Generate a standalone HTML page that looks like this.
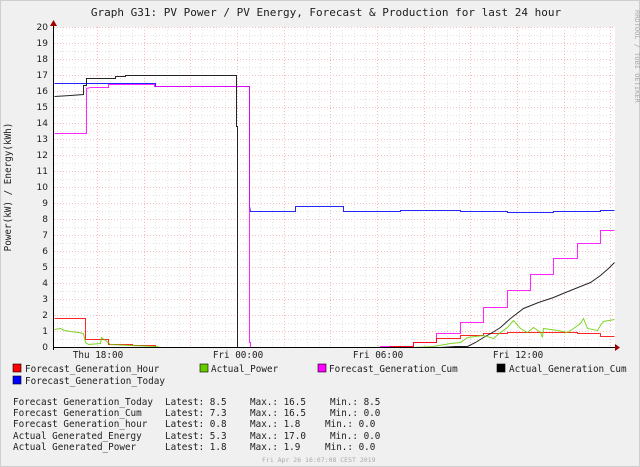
<!DOCTYPE html>
<html><head><meta charset="utf-8"><style>
html,body{margin:0;padding:0;background:#f0f0f0;}
svg{display:block}
</style></head><body>
<svg width="640" height="467" xmlns="http://www.w3.org/2000/svg" font-family="'DejaVu Sans Mono','Liberation Mono',monospace">
<rect x="0" y="0" width="640" height="467" fill="#f0f0f0"/>
<rect x="0.5" y="0.5" width="639" height="466" fill="none" stroke="#cfcfcf"/>
<rect x="53" y="27" width="562" height="320" fill="#ffffff"/>
<g id="g" stroke-width="1"></g>
<text x="326" y="16" text-anchor="middle" font-size="11" fill="#202020">Graph G31: PV Power / PV Energy, Forecast &amp; Production for last 24 hour</text>
<text transform="translate(635,10) rotate(90)" font-size="7" fill="#aaa">RRDTOOL / TOBI OETIKER</text>
<text transform="translate(11,187) rotate(-90)" text-anchor="middle" font-size="9.3" fill="#202020">Power(kW) / Energy(kWh)</text>
<g id="yl" font-family="'DejaVu Sans','Liberation Sans',sans-serif" font-size="9" fill="#202020" text-anchor="end"></g>
<g font-size="9.3" fill="#202020" text-anchor="middle">
<text x="98" y="358">Thu 18:00</text>
<text x="238" y="358">Fri 00:00</text>
<text x="378" y="358">Fri 06:00</text>
<text x="518" y="358">Fri 12:00</text>
</g>
<g id="series" fill="none" stroke-width="1" transform="translate(0.5,0.5)" stroke-opacity="0.85">
<polyline stroke="#0000ff" points="54,83 155,83 155,86 249,86 249,206 250,211 295,211 295,206 343,206 343,211 400,211 400,210 460,210 460,211 507,211 507,212 553,212 553,211 600,211 600,210 614,210"/>
<polyline stroke="#ff00ff" points="54,133 86,133 86,88 90,87 108,87 108,84 154,84 154,86 249,86 249,342 250,342 250,347 380,347 380,346 413,346 413,342 436,342 436,333 460,333 460,322 483,322 483,307 507,307 507,290 530,290 530,274 553,274 553,258 577,258 577,243 600,243 600,230 614,230"/>
<polyline stroke="#ff0000" points="54,318 85,318 85,339 108,339 108,344 132,344 132,345 155,345 155,347 390,347 390,346 413,346 413,342 436,342 436,338 460,338 460,335 483,335 483,333 507,333 507,332 577,332 577,333 600,333 600,336 614,336"/>
<polyline stroke="#000000" points="54,96 70,95 83,94 83,85 86,85 86,78 115,78 115,76 125,76 125,75 236,75 236,126 237,126 237,347 440,347 455,346 467,346 475,342 483,337 492,332 500,327 510,318 523,308 538,302 553,297 565,292 580,286 590,282 600,275 608,268 614,262"/>
<polyline stroke="#66cc00" points="54,329 60,328 64,330 70,331 78,332 83,333 85,342 88,344 100,343 101,337 105,340 110,344 130,345 155,346 160,347 413,347 433,346 450,343 460,342 467,337 483,335 493,338 500,332 507,327 513,320 520,328 527,332 533,327 540,332 542,337 543,328 557,330 567,332 573,328 580,323 583,318 587,328 597,330 600,325 603,321 614,319"/>
</g>
<line x1="53" y1="347.5" x2="618" y2="347.5" stroke="#000"/>
<line x1="53.5" y1="22" x2="53.5" y2="350" stroke="#000"/>
<polygon points="615,344 620,347.5 615,351" fill="#a00000"/>
<polygon points="50,26 53.5,20 57,26" fill="#a00000"/>
<g font-size="9.3" fill="#202020">
<rect x="13" y="364" width="8" height="8" fill="#ff0000" stroke="#000" stroke-width="0.6"/><text x="25" y="372">Forecast_Generation_Hour</text>
<rect x="200" y="364" width="8" height="8" fill="#66cc00" stroke="#000" stroke-width="0.6"/><text x="211" y="372">Actual_Power</text>
<rect x="318" y="364" width="8" height="8" fill="#ff00ff" stroke="#000" stroke-width="0.6"/><text x="329" y="372">Forecast_Generation_Cum</text>
<rect x="497" y="364" width="8" height="8" fill="#000000" stroke="#000" stroke-width="0.6"/><text x="509" y="372">Actual_Generation_Cum</text>
<rect x="13" y="376" width="8" height="8" fill="#0000ff" stroke="#000" stroke-width="0.6"/><text x="25" y="384">Forecast_Generation_Today</text>
<text x="13" y="405">Forecast Generation_Today</text><text x="165" y="405">Latest: 8.5</text><text x="250" y="405">Max.: 16.5</text><text x="330" y="405">Min.: 8.5</text>
<text x="13" y="416">Forecast Generation_Cum</text><text x="165" y="416">Latest: 7.3</text><text x="250" y="416">Max.: 16.5</text><text x="330" y="416">Min.: 0.0</text>
<text x="13" y="427">Forecast Generation_hour</text><text x="165" y="427">Latest: 0.8</text><text x="250" y="427">Max.: 1.8</text><text x="325" y="427">Min.: 0.0</text>
<text x="13" y="439">Actual Generated_Energy</text><text x="165" y="439">Latest: 5.3</text><text x="250" y="439">Max.: 17.0</text><text x="330" y="439">Min.: 0.0</text>
<text x="13" y="450">Actual Generated_Power</text><text x="165" y="450">Latest: 1.8</text><text x="250" y="450">Max.: 1.9</text><text x="325" y="450">Min.: 0.0</text>
</g>
<text x="262" y="462" font-size="6.5" fill="#aaaaaa">Fri Apr 26 16:07:08 CEST 2019</text>
</svg>
<script>
(function(){
var ns="http://www.w3.org/2000/svg";
var g=document.getElementById('g');
function line(x1,y1,x2,y2,c,d){var l=document.createElementNS(ns,'line');l.setAttribute('x1',x1);l.setAttribute('y1',y1);l.setAttribute('x2',x2);l.setAttribute('y2',y2);l.setAttribute('stroke',c);if(d)l.setAttribute('stroke-dasharray',d);g.appendChild(l);}
for(var i=0;i<=40;i++){var y=347-i*8+0.5;if(i%2==0)line(54,y,615,y,'#f4bcbc','1,2');else line(54,y,615,y,'#e4e4e4','1,2');}
for(var x=97-46.67;x<615;x+=11.667){var xx=Math.round(x)+0.5;if(xx<54)continue;line(xx,27,xx,347,'#e4e4e4','1,2');}
for(var x=97-46.67;x<615;x+=46.67){var xx=Math.round(x)+0.5;if(xx<54)continue;line(xx,27,xx,347,'#f4bcbc','1,2');}
var yl=document.getElementById('yl');
for(var i=0;i<=20;i++){var t=document.createElementNS(ns,'text');t.setAttribute('x',48);t.setAttribute('y',347-i*16+3);t.textContent=i;yl.appendChild(t);}
})();
</script>
</body></html>
